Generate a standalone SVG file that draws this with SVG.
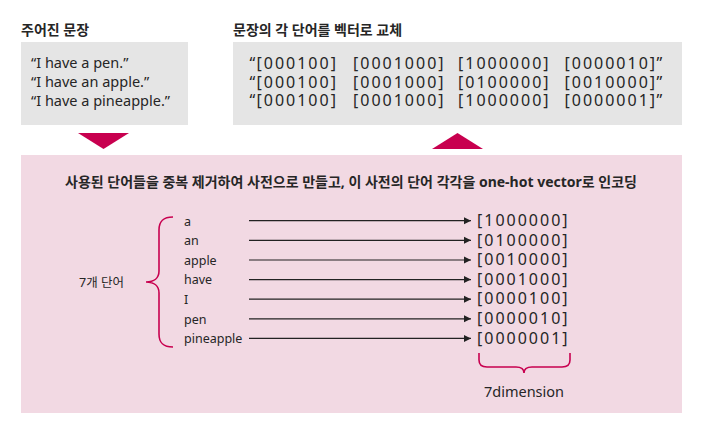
<svg xmlns="http://www.w3.org/2000/svg" width="702" height="432" viewBox="0 0 702 432">
<style>
text{font-family:"Noto Sans","Noto Sans CJK KR",sans-serif;fill:#262626}
.title{font-size:14px;font-weight:bold}
.sent{font-size:14.5px}
.word{font-size:12.5px}
.code{font-size:16px;letter-spacing:2px}
.q{letter-spacing:0}
.conn{stroke:#222;stroke-width:1.2;fill:none}
.brace{stroke:#c8004f;stroke-width:1.6;fill:none}
</style>
<defs>
<marker id="ah" markerWidth="8" markerHeight="8" refX="7" refY="4" orient="auto" markerUnits="userSpaceOnUse">
<path d="M0,0.5 L7,4 L0,7.5 Z" fill="#222"/>
</marker>
</defs>
<rect width="702" height="432" fill="#fff"/>
<g id="given">
<text class="title" x="21" y="35">주어진 문장</text>
<rect x="21" y="42" width="167" height="83" fill="#e5e5e5"/>
<text class="sent" x="31" y="68">“I have a pen.”</text>
<text class="sent" x="31" y="87">“I have an apple.”</text>
<text class="sent" x="31" y="106">“I have a pineapple.”</text>
</g>
<g id="replaced">
<text class="title" x="233" y="35">문장의 각 단어를 벡터로 교체</text>
<rect x="233" y="42" width="449" height="83" fill="#e5e5e5"/>
<text class="code" y="69"><tspan class="q" x="249.5">“</tspan><tspan x="256.5">[000100]</tspan><tspan x="353">[0001000]</tspan><tspan x="458">[1000000]</tspan><tspan x="564.5">[0000010]</tspan><tspan class="q" x="656.5">”</tspan></text>
<text class="code" y="87.5"><tspan class="q" x="249.5">“</tspan><tspan x="256.5">[000100]</tspan><tspan x="353">[0001000]</tspan><tspan x="458">[0100000]</tspan><tspan x="564.5">[0010000]</tspan><tspan class="q" x="656.5">”</tspan></text>
<text class="code" y="106"><tspan class="q" x="249.5">“</tspan><tspan x="256.5">[000100]</tspan><tspan x="353">[0001000]</tspan><tspan x="458">[1000000]</tspan><tspan x="564.5">[0000001]</tspan><tspan class="q" x="656.5">”</tspan></text>
</g>
<g id="tri-down"><path d="M78,133 L129,133 L103.5,149 Z" fill="#c8004f"/></g>
<g id="tri-up"><path d="M432,149 L483,149 L457.5,133 Z" fill="#c8004f"/></g>
<g id="dictionary">
<rect x="21" y="155" width="661" height="258" fill="#f2d9e3"/>
<text class="title" x="351" y="187" text-anchor="middle">사용된 단어들을 중복 제거하여 사전으로 만들고, 이 사전의 단어 각각을 one-hot vector로 인코딩</text>
<text class="word" x="79" y="287">7개 단어</text>
<path class="brace" d="M173,217 C163,217 159,221 159,230 L159,271 C159,278 154,282 146,282 C154,282 159,286 159,293 L159,334 C159,343 163,347 173,347"/>
<text class="word" x="184" y="225.5">a</text>
<text class="word" x="184" y="245">an</text>
<text class="word" x="184" y="264.5">apple</text>
<text class="word" x="184" y="284">have</text>
<text class="word" x="184" y="304">I</text>
<text class="word" x="184" y="323.5">pen</text>
<text class="word" x="184" y="343">pineapple</text>
<text class="code" x="477" y="226">[1000000]</text>
<text class="code" x="477" y="245.6">[0100000]</text>
<text class="code" x="477" y="265.2">[0010000]</text>
<text class="code" x="477" y="284.8">[0001000]</text>
<text class="code" x="477" y="304.4">[0000100]</text>
<text class="code" x="477" y="324">[0000010]</text>
<text class="code" x="477" y="343.6">[0000001]</text>
<path class="brace" d="M479,353 L479,360 C479,365 482,367 487,367 L516,367 C521,367 524,369 524,373 C524,369 527,367 532,367 L562,367 C567,367 570,365 570,360 L570,353"/>
<text class="sent" x="524" y="397" text-anchor="middle">7dimension</text>
</g>
<g id="connectors">
<line class="conn" x1="249" y1="220.7" x2="471" y2="220.7" marker-end="url(#ah)"/>
<line class="conn" x1="249" y1="240.3" x2="471" y2="240.3" marker-end="url(#ah)"/>
<line class="conn" x1="249" y1="260" x2="471" y2="260" marker-end="url(#ah)"/>
<line class="conn" x1="249" y1="279.6" x2="471" y2="279.6" marker-end="url(#ah)"/>
<line class="conn" x1="249" y1="299.2" x2="471" y2="299.2" marker-end="url(#ah)"/>
<line class="conn" x1="249" y1="318.8" x2="471" y2="318.8" marker-end="url(#ah)"/>
<line class="conn" x1="249" y1="338.4" x2="471" y2="338.4" marker-end="url(#ah)"/>
</g>
</svg>
